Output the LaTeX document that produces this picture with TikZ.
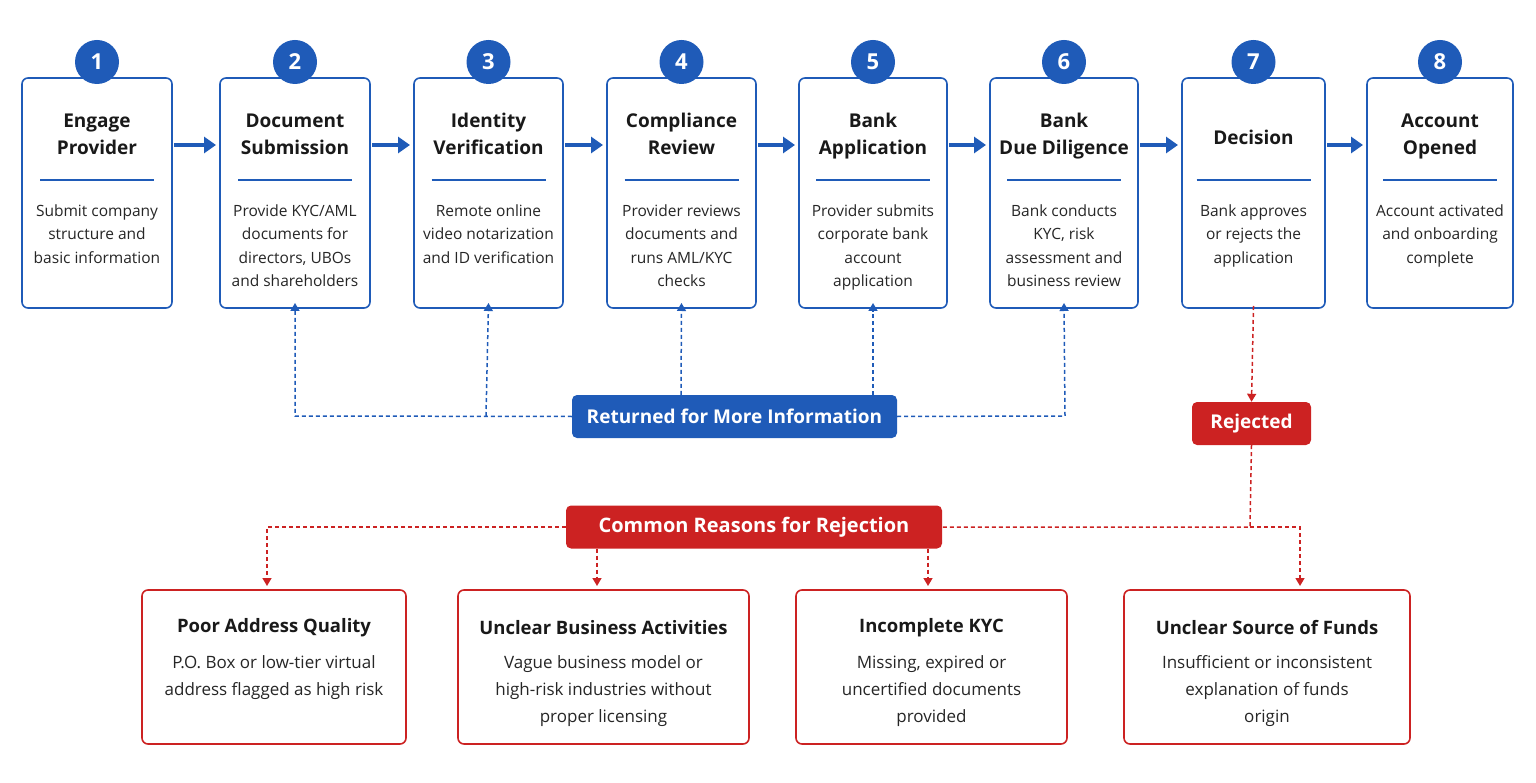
\documentclass[tikz,border=0pt]{standalone}
\usepackage{fontspec}
\setmainfont{Open Sans}
\usetikzlibrary{arrows.meta}
\definecolor{bl}{HTML}{1F5BB8}
\definecolor{rd}{HTML}{CC2222}
\begin{document}
\begin{tikzpicture}[x=1pt,y=-1pt,
 stp/.style={draw=bl,line width=1.6pt,rounded corners=6pt,fill=white},
 rbox/.style={draw=rd,line width=1.6pt,rounded corners=6pt,fill=white},
 num/.style={circle,fill=bl,minimum size=44pt,inner sep=0pt,text=white,font=\fontsize{22}{22}\selectfont\bfseries},
 ttl/.style={align=center,font=\fontsize{19}{27}\selectfont\bfseries,text=black!90},
 bdy/.style={align=center,font=\fontsize{15.5}{23.5}\selectfont,text=black!85},
 flow/.style={-{Triangle[length=12pt,width=16pt]},draw=bl,line width=4pt},
 bd/.style={draw=bl,line width=1.5pt,dash pattern=on 4pt off 3pt},
 rdl/.style={draw=rd,line width=1.5pt,dash pattern=on 4pt off 3pt},
 tip/.style={-{Triangle[length=8pt,width=9pt]}}]
\useasboundingbox (0,0) rectangle (1536,783);
\foreach \i/\a/\b/\ty/\t/\d in {
 1/22/172/110/{Engage\\Provider}/{Submit company\\structure and\\basic information\\\strut},
 2/220/370/110/{Document\\Submission}/{Provide KYC/AML\\documents for\\directors, UBOs\\and shareholders},
 3/414/563/110/{Identity\\Verification}/{Remote online\\video notarization\\and ID verification\\\strut},
 4/607/756/110/{Compliance\\Review}/{Provider reviews\\documents and\\runs AML/KYC\\checks},
 5/799/947/110/{Bank\\Application}/{Provider submits\\corporate bank\\account\\application},
 6/990/1138/110/{Bank\\Due Diligence}/{Bank conducts\\KYC, risk\\assessment and\\business review},
 7/1182/1325/127/{Decision}/{Bank approves\\or rejects the\\application\\\strut},
 8/1367/1513/110/{Account\\Opened}/{Account activated\\and onboarding\\complete\\\strut}}{
 \draw[stp] (\a,78) rectangle (\b,308);
 \coordinate (s\i) at ({(\a+\b)/2},308);
 \coordinate (e\i) at (\b,145); \coordinate (w\i) at (\a,145);
 \node[num] (n\i) at ({(\a+\b)/2},62) {\i};
 \node[ttl,anchor=north] (t\i) at ({(\a+\b)/2},\ty) {\t};
 \draw[bl,line width=2pt] ({(\a+\b)/2-57},180) -- ({(\a+\b)/2+57},180);
 \node[bdy,anchor=north] (d\i) at ({(\a+\b)/2},201) {\d};
}
\foreach \i/\j in {1/2,2/3,3/4,4/5,5/6,6/7,7/8}{\draw[flow] ([xshift=2pt]e\i) -- ([xshift=-4pt]w\j);}
% returned
\node[fill=bl,rounded corners=5pt,text=white,font=\fontsize{19}{19}\selectfont\bfseries,minimum width=325pt,minimum height=43pt] (ret) at (734.5,416.5) {Returned for More Information};
\draw[bd,tip] (ret.west) -- (295,416) -- ([yshift=5pt]s2);
\draw[bd,tip] (486,416) -- ([yshift=5pt]s3);
\draw[bd,tip] (ret.north -| 681,0) -- ([yshift=5pt]s4);
\draw[bd,tip] (ret.north -| 873,0) -- ([yshift=5pt]s5);
\draw[bd,tip] (ret.east) -- (1065,416) -- ([yshift=5pt]s6);
% rejected
\node[fill=rd,rounded corners=5pt,text=white,font=\fontsize{19}{19}\selectfont\bfseries,minimum width=119pt,minimum height=43pt] (rej) at (1251.5,423.5) {Rejected};
\draw[rdl,tip] ([yshift=2pt]s7) -- (rej.north);
\node[fill=rd,rounded corners=5pt,text=white,font=\fontsize{20}{20}\selectfont\bfseries,minimum width=376pt,minimum height=43pt] (com) at (754,527) {Common Reasons for Rejection};
\draw[rdl] (rej.south) -- (1250,527) -- (com.east);
\foreach \k/\a/\b/\t/\d in {
 1/142/406/{Poor Address Quality}/{P.O. Box or low-tier virtual\\address flagged as high risk\\\strut},
 2/458/749/{Unclear Business Activities}/{Vague business model or\\high-risk industries without\\proper licensing},
 3/796/1067/{Incomplete KYC}/{Missing, expired or\\uncertified documents\\provided},
 4/1124/1410/{Unclear Source of Funds}/{Insufficient or inconsistent\\explanation of funds\\origin}}{
 \draw[rbox] (\a,590) rectangle (\b,744);
 \node[ttl,anchor=center,font=\fontsize{18.5}{20}\selectfont\bfseries] (r\k) at ({(\a+\b)/2},628) {\t};
 \node[bdy,anchor=north,font=\fontsize{17}{27}\selectfont] (q\k) at ({(\a+\b)/2},652) {\d};
}
\draw[rdl,tip] (com.west) -- (267,527) -- (267,586);
\draw[rdl,tip] (com.south -| 597,0) -- (597,586);
\draw[rdl,tip] (com.south -| 928,0) -- (928,586);
\draw[rdl,tip] (1250,527) -- (1300,527) -- (1300,586);
\end{tikzpicture}
\end{document}
